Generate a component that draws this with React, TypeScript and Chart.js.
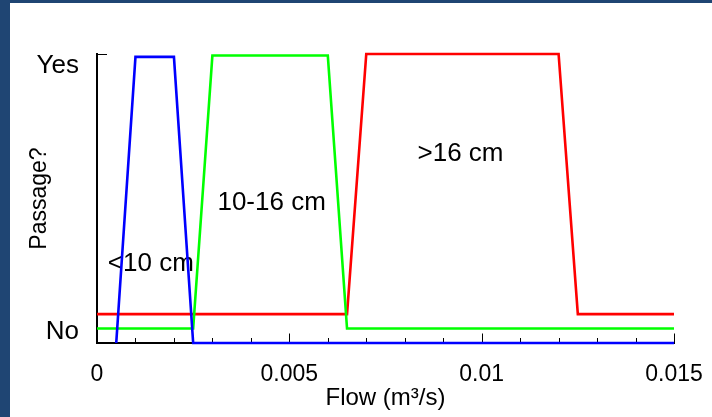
import React, { useEffect, useRef } from "react";
import { Chart, registerables } from "chart.js";

Chart.register(...registerables);

// ---- Data ----
const blueFlow = [0.0005, 0.001, 0.002, 0.0025, 0.015];
const bluePassage = [0, 0.99, 0.99, 0, 0];

const greenFlow = [0, 0.0025, 0.003, 0.006, 0.0065, 0.015];
const greenPassage = [0.05, 0.05, 0.995, 0.995, 0.05, 0.05];

const redFlow = [0, 0.0065, 0.007, 0.012, 0.0125, 0.015];
const redPassage = [0.1, 0.1, 1, 1, 0.1, 0.1];

const xTickValues = [0, 0.005, 0.01, 0.015];
const xTickLabels = ["0", "0.005", "0.01", "0.015"];
const xMinorStep = 0.001;

const yTickValues = [0.04, 0.96];
const yTickLabels = ["No", "Yes"];
const yMarkValues = [0, 1];

const noteTexts = ["<10 cm", "10-16 cm", ">16 cm"];
const noteFlow = [0.0014, 0.00454, 0.00945];
const notePassage = [0.275, 0.485, 0.655];

const FONT = "'Liberation Sans', Arial, Helvetica, sans-serif";

export default function App() {
  const ref = useRef<HTMLCanvasElement>(null);

  useEffect(() => {
    const canvas = ref.current;
    if (!canvas) return;
    const pts = (xs: number[], ys: number[]) => xs.map((x, i) => ({ x, y: ys[i] }));

    const innerTicks = {
      id: "innerTicks",
      beforeDatasetsDraw(chart: any) {
        const { ctx } = chart;
        const xs = chart.scales.x;
        const ys = chart.scales.y;
        ctx.save();
        ctx.strokeStyle = "#000";
        ctx.lineWidth = 1;
        const n = Math.round((xs.max - xs.min) / xMinorStep);
        const base = ys.getPixelForValue(0);
        for (let i = 0; i <= n; i++) {
          const v = xs.min + i * xMinorStep;
          const px = Math.round(xs.getPixelForValue(v)) + 0.5;
          const len = i % 5 === 0 ? 9.5 : 5;
          ctx.beginPath();
          ctx.moveTo(px, base);
          ctx.lineTo(px, base - len);
          ctx.stroke();
        }
        const left = xs.getPixelForValue(xs.min);
        for (const v of yMarkValues) {
          const py = Math.round(ys.getPixelForValue(v)) + 0.5;
          ctx.beginPath();
          ctx.moveTo(left, py);
          ctx.lineTo(left + 10, py);
          ctx.stroke();
        }
        // notes
        ctx.fillStyle = "#000";
        ctx.font = `26px ${FONT}`;
        ctx.textAlign = "center";
        ctx.textBaseline = "middle";
        noteTexts.forEach((t, i) => {
          ctx.fillText(t, xs.getPixelForValue(noteFlow[i]), ys.getPixelForValue(notePassage[i]));
        });
        ctx.restore();
      },
    };

    const chart = new Chart(canvas, {
      type: "line",
      data: {
        datasets: [
          { data: pts(blueFlow, bluePassage), borderColor: "#0000ff" },
          { data: pts(greenFlow, greenPassage), borderColor: "#00ff00" },
          { data: pts(redFlow, redPassage), borderColor: "#ff0000" },
        ].map((d) => ({
          ...d,
          borderWidth: 2.6,
          pointRadius: 0,
          tension: 0,
          fill: false,
          clip: false as any,
          borderJoinStyle: "miter" as const,
        })),
      },
      options: {
        responsive: false,
        animation: false,
        devicePixelRatio: 1,
        parsing: false as any,
        layout: { padding: { top: 51, right: 38, left: 0, bottom: 0 } },
        plugins: { legend: { display: false }, tooltip: { enabled: false } },
        scales: {
          x: {
            type: "linear",
            min: 0,
            max: 0.015,
            afterBuildTicks: (s: any) => {
              s.ticks = xTickValues.map((v) => ({ value: v }));
            },
            afterFit: (s: any) => {
              s.height = 74;
              s.paddingLeft = 0;
              s.paddingRight = 0;
            },
            grid: { display: false, drawTicks: false },
            border: { display: true, color: "#000", width: 2 },
            ticks: {
              autoSkip: false,
              maxRotation: 0,
              padding: 18,
              color: "#000",
              font: { family: FONT, size: 23 },
              callback: (_v: any, i: number) => xTickLabels[i],
            },
            title: {
              display: true,
              text: "Flow (m³/s)",
              color: "#000",
              font: { family: FONT, size: 24 },
              padding: { top: 0, bottom: 4 },
            },
          },
          y: {
            type: "linear",
            min: 0,
            max: 1,
            afterBuildTicks: (s: any) => {
              s.ticks = yTickValues.map((v) => ({ value: v }));
            },
            afterFit: (s: any) => {
              s.width = 87;
              s.paddingTop = 0;
              s.paddingBottom = 0;
            },
            grid: { display: false, drawTicks: false },
            border: { display: true, color: "#000", width: 2 },
            ticks: {
              autoSkip: false,
              padding: 18,
              color: "#000",
              font: { family: FONT, size: 26 },
              callback: (_v: any, i: number) => yTickLabels[i],
            },
            title: {
              display: true,
              text: "Passage?",
              color: "#000",
              font: { family: FONT, size: 23 },
              padding: { top: 16, bottom: 0 },
            },
          },
        },
      },
      plugins: [innerTicks],
    });
    return () => chart.destroy();
  }, []);

  return (
    <div
      style={{
        position: "fixed",
        left: 0,
        top: 0,
        width: 712,
        height: 417,
        background: "#1f4573",
        overflow: "hidden",
      }}
    >
      <canvas
        ref={ref}
        width={702}
        height={414}
        style={{ position: "absolute", left: 10, top: 3, width: 702, height: 414, background: "#fff", display: "block" }}
      />
    </div>
  );
}
